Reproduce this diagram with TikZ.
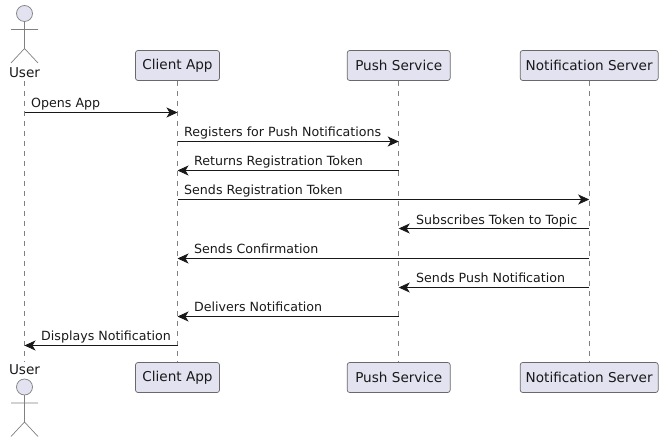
\documentclass[tikz,border=0pt]{standalone}
\usepackage{fontspec}
\setmainfont{DejaVu Sans}
\usetikzlibrary{arrows.meta}
\definecolor{partfill}{HTML}{E2E2F0}
\definecolor{partline}{HTML}{181818}
\tikzset{
  partbox/.style={draw=partline!65,line width=0.7pt,fill=partfill,rounded corners=2.5pt,minimum height=30pt,inner sep=0pt,font=\fontsize{13.6pt}{15pt}\selectfont,text=black!90},
  lifeline/.style={draw=partline!55,line width=0.6pt,dash pattern=on 5pt off 5pt},
  msg/.style={draw=partline,line width=0.8pt,-{Stealth[length=11pt,width=10pt,inset=3pt]}},
  msglabel/.style={anchor=base west,inner sep=0pt,font=\fontsize{12.63pt}{14pt}\selectfont,text=black!90},
  actorpart/.style={draw=partline!55,line width=0.7pt},
  actorhead/.style={draw=partline!55,line width=0.7pt,fill=partfill},
  actorname/.style={inner sep=0pt,font=\fontsize{13.6pt}{15pt}\selectfont,text=black!90},
}
\begin{document}
\begin{tikzpicture}[x=1pt,y=-1pt]
\useasboundingbox (0,0) rectangle (663,443);
% participants
\node[partbox,minimum width=84pt] (ct) at (177.5,65.5) {Client App};
\node[partbox,minimum width=103pt] (pt) at (398.7,65.5) {Push Service};
\node[partbox,minimum width=138pt] (nt) at (589.2,65.5) {Notification Server};
\node[partbox,minimum width=84pt] (cb) at (177.5,377.5) {Client App};
\node[partbox,minimum width=103pt] (pb) at (398.7,377.5) {Push Service};
\node[partbox,minimum width=138pt] (nb) at (589.2,377.5) {Notification Server};
\node[actorname] (ut) at (24.5,73) {User};
\node[actorname] (ub) at (24.5,370) {User};
% lifelines
\coordinate (us) at (24.5,81);
\coordinate (ue) at (24.5,362);
\draw[lifeline] (us) -- (ue);
\draw[lifeline] (ct.south) -- (cb.north);
\draw[lifeline] (pt.south) -- (pb.north);
\draw[lifeline] (nt.south) -- (nb.north);
% actors
\foreach \y in {0,373.5}{
  \draw[actorhead] (24.5,13.5+\y) circle (8);
  \draw[actorpart] (24.5,21.5+\y) -- (24.5,48.5+\y)
    (11,29.5+\y) -- (38,29.5+\y)
    (11,63+\y) -- (24.5,48.5+\y) -- (38,63+\y);
}
% anchors on lifelines
\foreach \i/\y in {1/112.5,2/141.5,3/170.5,4/199.5,5/228.5,6/258.5,7/287.5,8/316.5,9/345.5}{
  \coordinate (u\i) at (24.5,\y);
  \coordinate (c\i) at (177.5,\y);
  \coordinate (p\i) at (398.7,\y);
  \coordinate (n\i) at (589.2,\y);
}
% messages
\draw[msg] (u1) -- (c1);
\draw[msg] (c2) -- (p2);
\draw[msg] (p3) -- (c3);
\draw[msg] (c4) -- (n4);
\draw[msg] (n5) -- (p5);
\draw[msg] (n6) -- (c6);
\draw[msg] (n7) -- (p7);
\draw[msg] (p8) -- (c8);
\draw[msg] (c9) -- (u9);
\node[msglabel] (m1) at (31,107.5) {Opens App};
\node[msglabel] (m2) at (184,136.5) {Registers for Push Notifications};
\node[msglabel] (m3) at (194,165.5) {Returns Registration Token};
\node[msglabel] (m4) at (184,194.5) {Sends Registration Token};
\node[msglabel] (m5) at (416,224.5) {Subscribes Token to Topic};
\node[msglabel] (m6) at (194,253.5) {Sends Confirmation};
\node[msglabel] (m7) at (416,282.5) {Sends Push Notification};
\node[msglabel] (m8) at (194,311.5) {Delivers Notification};
\node[msglabel] (m9) at (41,340.5) {Displays Notification};
\end{tikzpicture}
\end{document}
